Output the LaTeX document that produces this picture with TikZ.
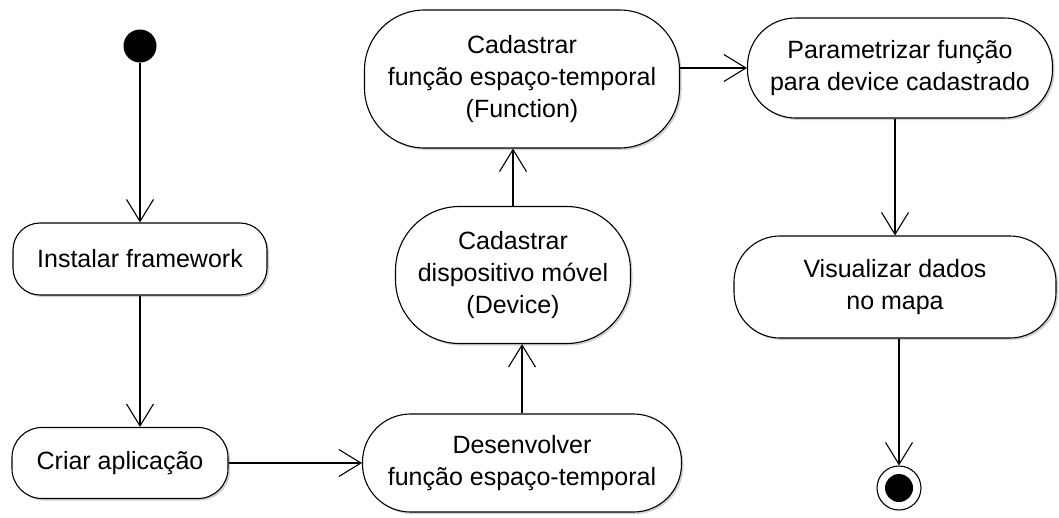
\documentclass[tikz,border=0pt]{standalone}
\usepackage{fontspec}
\setmainfont{Liberation Sans}
\usetikzlibrary{arrows.meta,shadows}
\begin{document}
\begin{tikzpicture}[x=1pt,y=-1pt,
  act/.style={draw=black, line width=1.1pt, fill=white, rounded corners=#1,
    inner sep=0pt, align=center, font=\fontsize{25}{32}\selectfont,
    drop shadow={shadow xshift=2pt, shadow yshift=-2pt, opacity=0.18, fill=black}},
  flow/.style={draw=black, line width=1.1pt,
    -{Straight Barb[length=22pt, width=27pt, line width=1.1pt]}},
  initial/.style={circle, fill=black, minimum size=33pt, inner sep=0pt},
  final/.style={circle, draw=black, line width=1.1pt, fill=white,
    minimum size=44pt, inner sep=0pt}]
\useasboundingbox (0,0) rectangle (1059,517);

% activities
\node[act=27, minimum width=254pt, minimum height=72pt] (inst) at (140,259) {Instalar framework};
\node[act=30, minimum width=216pt, minimum height=71pt] (criar) at (120,463) {Criar aplicação};
\node[act=48, minimum width=319pt, minimum height=98pt] (desen) at (522,463) {Desenvolver\\função espaço-temporal};
\node[act=64, minimum width=235pt, minimum height=137pt] (disp) at (513,275) {Cadastrar\\dispositivo móvel\\(Device)};
\node[act=60, minimum width=315pt, minimum height=138pt] (func) at (522,79) {Cadastrar\\função espaço-temporal\\(Function)};
\node[act=48, minimum width=305pt, minimum height=100pt] (param) at (900,68) {Parametrizar função\\para device cadastrado};
\node[act=46, minimum width=322pt, minimum height=102pt] (vis) at (895,287) {Visualizar dados\\no mapa};

% start and end
\node[initial] (start) at (140,46) {};
\node[final] (end) at (899,488) {};
\node[circle, fill=black, minimum size=28pt, inner sep=0pt] (endin) at (end) {};

% control flow
\draw[flow] (start) -- (inst);
\draw[flow] (inst.south) -- (inst.south |- criar.north);
\draw[flow] (criar) -- (desen);
\draw[flow] (desen.north) -- (desen.north |- disp.south);
\draw[flow] (disp.north) -- (disp.north |- func.south);
\draw[flow] (func.east |- param.west) -- (param.west);
\draw[flow] (vis.north |- param.south) -- (vis.north);
\draw[flow] (end.north |- vis.south) -- (end.north);
\end{tikzpicture}
\end{document}
